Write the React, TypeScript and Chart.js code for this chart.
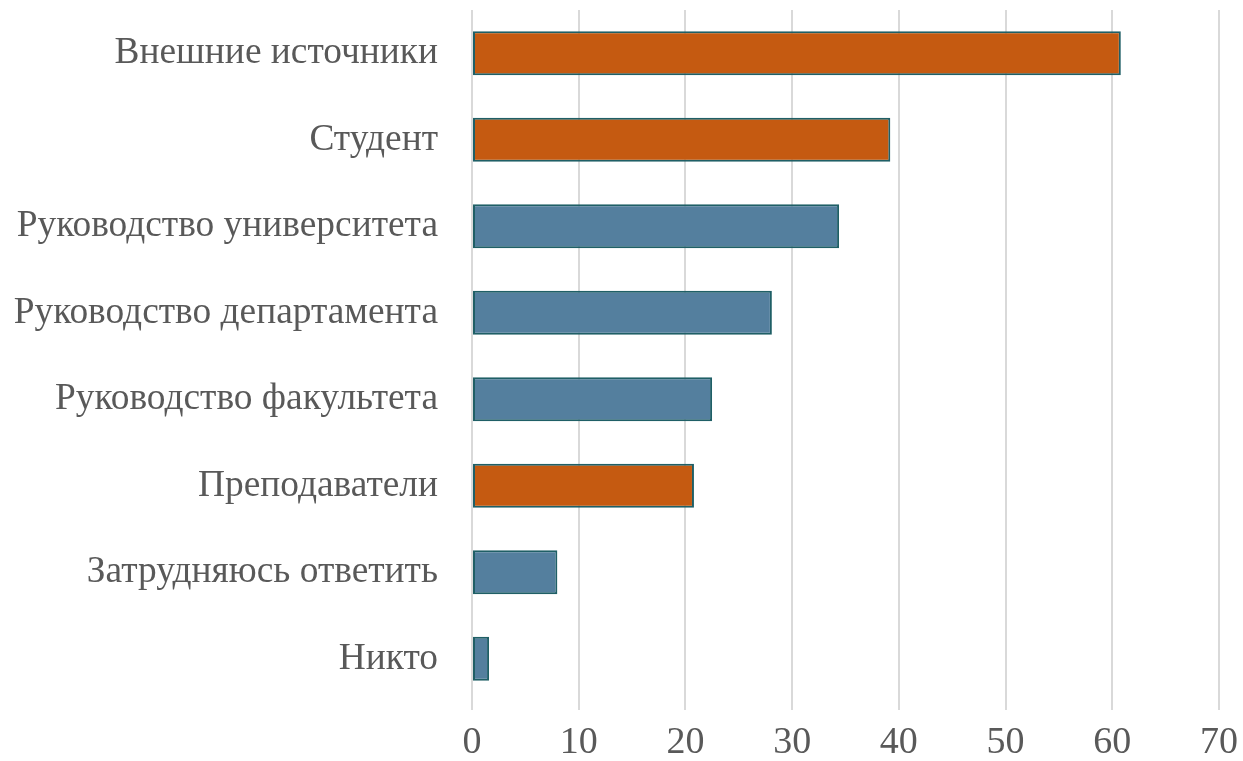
import React, { useEffect, useRef } from "react";
import { Chart, registerables } from "chart.js";

Chart.register(...registerables);

const categories = [
  "Внешние источники",
  "Студент",
  "Руководство университета",
  "Руководство департамента",
  "Руководство факультета",
  "Преподаватели",
  "Затрудняюсь ответить",
  "Никто",
];
const values = [60.8, 39.2, 34.4, 28.1, 22.5, 20.8, 8.0, 1.6];
const highlighted = [true, true, false, false, false, true, false, false];
const xTicks = [0, 10, 20, 30, 40, 50, 60, 70];

const ORANGE = "#C55A11";
const BLUE = "#547F9E";
const BORDER = "#1F5F66";
const FONT = "'Liberation Serif', 'Times New Roman', serif";

export default function App() {
  const ref = useRef<HTMLCanvasElement>(null);
  useEffect(() => {
    if (!ref.current) return;
    const chart = new Chart(ref.current, {
      type: "bar",
      data: {
        labels: categories,
        datasets: [
          {
            data: values,
            backgroundColor: highlighted.map((h) => (h ? ORANGE : BLUE)),
            borderColor: BORDER,
            borderWidth: 2,
            borderSkipped: false,
            categoryPercentage: 1,
            barPercentage: 0.51,
          },
        ],
      },
      options: {
        indexAxis: "y",
        responsive: false,
        animation: false,
        layout: { padding: { top: 10, right: 24, left: 0, bottom: 0 } },
        plugins: { legend: { display: false }, tooltip: { enabled: false } },
        scales: {
          x: {
            min: 0,
            max: 70,
            afterBuildTicks: (scale: any) => {
              scale.ticks = xTicks.map((v) => ({ value: v }));
            },
            afterFit: (scale: any) => {
              scale.height = 59;
              scale.paddingLeft = 0;
              scale.paddingRight = 0;
            },
            grid: { color: "#D9D9D9", lineWidth: 2, tickLength: 8, drawTicks: true },
            border: { display: false },
            ticks: {
              color: "#595959",
              font: { family: FONT, size: 38 },
              padding: 10,
              maxRotation: 0,
            },
          },
          y: {
            afterFit: (scale: any) => {
              scale.width = 472;
              scale.paddingTop = 0;
              scale.paddingBottom = 0;
            },
            grid: { display: false, drawTicks: false },
            border: { display: false },
            ticks: {
              color: "#595959",
              font: { family: FONT, size: 37.4 },
              padding: 34,
            },
          },
        },
      },
    });
    return () => chart.destroy();
  }, []);
  return (
    <div style={{ position: "absolute", left: 0, top: 0, width: 1243, height: 761, background: "#fff" }}>
      <canvas ref={ref} width={1243} height={761} />
    </div>
  );
}
